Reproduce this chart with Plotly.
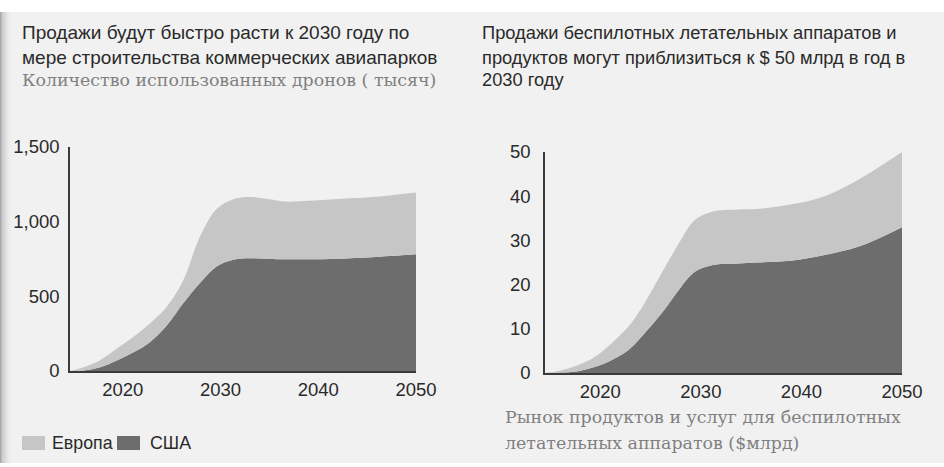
import plotly.graph_objects as go

# ---- data: left chart (thousands of drones) ----
years_l = [2014.6, 2016, 2017.7, 2019.4, 2021.1, 2022.8, 2024.5, 2026.2, 2027.9, 2029.6, 2031.3, 2033, 2035, 2036.5, 2039, 2042, 2045.5, 2050]
usa_l = [0, 3, 25, 70, 125, 195, 305, 455, 590, 700, 745, 755, 750, 748, 748, 752, 762, 781]
europe_l = [0, 22, 49, 80, 105, 125, 126, 155, 310, 385, 405, 410, 400, 387, 392, 400, 403, 415]

# ---- data: right chart ($ bn) ----
years_r = [2014.5, 2016, 2017.8, 2019.5, 2021.1, 2022.8, 2024.4, 2026.1, 2027.8, 2029.4, 2031.1, 2033.7, 2035.5, 2038.9, 2042.3, 2045.7, 2050]
usa_r = [0, 0.1, 0.4, 1.4, 2.9, 5.2, 9.0, 13.5, 18.8, 22.9, 24.4, 24.8, 25.0, 25.4, 26.7, 28.6, 33.0]
europe_r = [0, 0.4, 1.4, 2.3, 3.8, 5.3, 6.8, 9.1, 10.5, 11.7, 12.1, 12.2, 12.1, 12.7, 13.3, 15.2, 17.0]

ytick_l_vals = [0, 500, 1000, 1500]
ytick_l_text = ["0", "500", "1,000", "1,500"]
ytick_r_vals = [0, 10, 20, 30, 40, 50]
xtick_vals = [2020, 2030, 2040, 2050]
legend_names = ["Европа", "США"]

LIGHT = "#c6c6c6"
DARK = "#6d6d6d"
W, H = 944, 467

def px(x):
    return x / W

def py(y):
    return 1 - y / H

fig = go.Figure()
fig.add_trace(go.Scatter(x=years_l, y=usa_l, name="США", stackgroup="l", mode="lines",
                         line=dict(width=0, shape="spline", color=DARK), fillcolor=DARK,
                         xaxis="x", yaxis="y", hoverinfo="skip"))
fig.add_trace(go.Scatter(x=years_l, y=europe_l, name="Европа", stackgroup="l", mode="lines",
                         line=dict(width=0, shape="spline", color=LIGHT), fillcolor=LIGHT,
                         xaxis="x", yaxis="y", hoverinfo="skip"))
fig.add_trace(go.Scatter(x=years_r, y=usa_r, name="США", stackgroup="r", mode="lines",
                         line=dict(width=0, shape="spline", color=DARK), fillcolor=DARK,
                         xaxis="x2", yaxis="y2", hoverinfo="skip"))
fig.add_trace(go.Scatter(x=years_r, y=europe_r, name="Европа", stackgroup="r", mode="lines",
                         line=dict(width=0, shape="spline", color=LIGHT), fillcolor=LIGHT,
                         xaxis="x2", yaxis="y2", hoverinfo="skip"))

tickfont = dict(family="Liberation Sans, Arial, sans-serif", size=18.5, color="#2a2a2a")
axcommon = dict(showgrid=False, zeroline=False, showline=True, linecolor="#3a3a3a",
                linewidth=1.5, ticks="", tickfont=tickfont, fixedrange=True, automargin=False)

fig.update_layout(
    template="none",
    width=W, height=H,
    margin=dict(l=0, r=0, t=0, b=0, pad=0, autoexpand=False),
    paper_bgcolor="white", plot_bgcolor="rgba(0,0,0,0)",
    showlegend=False,
    xaxis=dict(domain=[px(70), px(416)], range=[2014.6, 2050], tickvals=xtick_vals,
               anchor="y", ticklabelstandoff=1, **axcommon),
    yaxis=dict(domain=[py(371), py(147)], range=[0, 1500], tickvals=ytick_l_vals,
               ticktext=ytick_l_text, anchor="x", ticklabelstandoff=5, **axcommon),
    xaxis2=dict(domain=[px(545), px(902)], range=[2014.5, 2050], tickvals=xtick_vals,
                anchor="y2", ticklabelstandoff=1, **axcommon),
    yaxis2=dict(domain=[py(373), py(152)], range=[0, 50], tickvals=ytick_r_vals,
                anchor="x2", ticklabelstandoff=9, **axcommon),
)

# panel background and left shadow
shapes = [dict(type="rect", xref="paper", yref="paper", x0=0, x1=1, y0=py(463), y1=py(12),
               fillcolor="#f1f1f1", line=dict(width=0), layer="below")]
shade = ["#a8a8a8", "#b8b8b8", "#c6c6c6", "#d2d2d2", "#dbdbdb", "#e2e2e2", "#e7e7e7", "#ebebeb", "#eeeeee", "#f0f0f0"]
for i, c in enumerate(shade):
    shapes.append(dict(type="rect", xref="paper", yref="paper", x0=px(i * 1.2), x1=px(i * 1.2 + 1.3),
                       y0=py(463), y1=py(12), fillcolor=c, line=dict(width=0), layer="below"))
# legend swatches
shapes.append(dict(type="rect", xref="paper", yref="paper", x0=px(22), x1=px(45), y0=py(450), y1=py(436),
                   fillcolor=LIGHT, line=dict(width=0)))
shapes.append(dict(type="rect", xref="paper", yref="paper", x0=px(117), x1=px(140), y0=py(450), y1=py(436),
                   fillcolor=DARK, line=dict(width=0)))
fig.update_layout(shapes=shapes)

sans_l = dict(family="Liberation Sans, Arial, sans-serif", size=19, color="#2a2a2a")
sans_r = dict(family="Liberation Sans, Arial, sans-serif", size=18.3, color="#2a2a2a")
serif = dict(family="DejaVu Serif, serif", size=17.4, color="#808080")
leg = dict(family="Liberation Sans, Arial, sans-serif", size=17.8, color="#2a2a2a")
ann = [
    ("Продажи будут быстро расти к 2030 году по", 20, 33, sans_l),
    ("мере строительства коммерческих авиапарков", 20, 57, sans_l),
    ("Количество использованных дронов ( тысяч)", 20, 80, serif),
    ("Продажи беспилотных летательных аппаратов и", 480, 33, sans_r),
    ("продуктов могут приблизиться к $ 50 млрд в год в", 480, 57, sans_r),
    ("2030 году", 480, 80, sans_r),
    ("Рынок продуктов и услуг для беспилотных", 503, 417, serif),
    ("летательных аппаратов ($млрд)", 503, 443, serif),
    (legend_names[0], 50, 443, leg),
    (legend_names[1], 148, 443, leg),
]
for text, x, y, f in ann:
    fig.add_annotation(text=text, xref="paper", yref="paper", x=px(x), y=py(y),
                       xanchor="left", yanchor="middle", showarrow=False, font=f)

fig.write_html("out.html", config={"displayModeBar": False},
               post_script="document.body.style.margin='0';document.body.style.overflow='hidden';")
